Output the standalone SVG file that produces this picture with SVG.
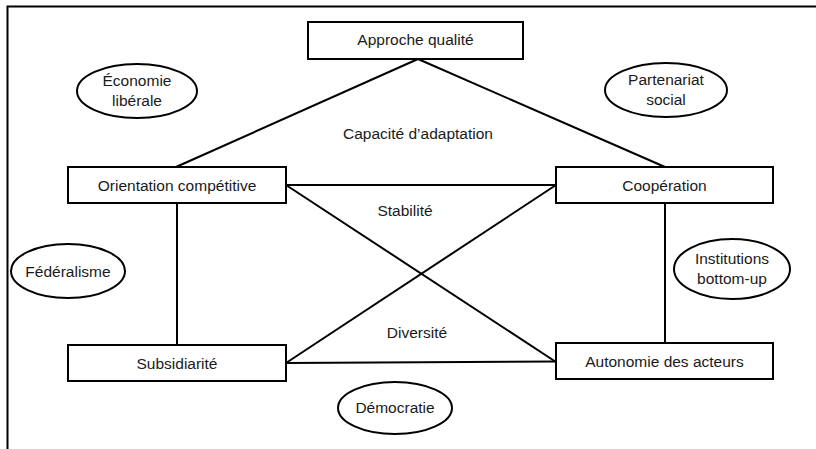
<svg xmlns="http://www.w3.org/2000/svg" width="816" height="449" viewBox="0 0 816 449">
<style>
  .box { fill: #fff; stroke: #000; stroke-width: 2; }
  .ell { fill: #fff; stroke: #000; stroke-width: 2; }
  .ln { stroke: #000; stroke-width: 2; fill: none; }
  text { font-family: "Liberation Sans", Arial, sans-serif; font-size: 15.5px; fill: #1a1a1a; text-anchor: middle; }
</style>
<rect width="816" height="449" fill="#fff"/>
<path class="ln" d="M7.5,449 V6.5 H816"/>
<g id="connectors">
  <line class="ln" x1="418" y1="59" x2="176" y2="167"/>
  <line class="ln" x1="418" y1="59" x2="665" y2="167"/>
  <line class="ln" x1="286" y1="185" x2="556" y2="185"/>
  <line class="ln" x1="286" y1="185" x2="556" y2="362"/>
  <line class="ln" x1="556" y1="185" x2="286" y2="363"/>
  <line class="ln" x1="286" y1="363" x2="556" y2="361.5"/>
  <line class="ln" x1="177" y1="203" x2="177" y2="345"/>
  <line class="ln" x1="665" y1="203" x2="665" y2="343"/>
</g>
<g id="labels">
  <text x="418" y="139">Capacité d’adaptation</text>
  <text x="405" y="216">Stabilité</text>
  <text x="417" y="338">Diversité</text>
</g>
<g id="approche">
  <rect class="box" x="308" y="22" width="215" height="37"/>
  <text x="415.5" y="45">Approche qualité</text>
</g>
<g id="orientation">
  <rect class="box" x="68" y="167" width="218" height="36"/>
  <text x="177" y="190.5">Orientation compétitive</text>
</g>
<g id="cooperation">
  <rect class="box" x="556" y="167" width="217" height="36"/>
  <text x="664.5" y="190.5">Coopération</text>
</g>
<g id="subsidiarite">
  <rect class="box" x="68" y="345" width="218" height="36"/>
  <text x="177" y="368.5">Subsidiarité</text>
</g>
<g id="autonomie">
  <rect class="box" x="556" y="343" width="217" height="36"/>
  <text x="664.5" y="366.5">Autonomie des acteurs</text>
</g>
<g id="economie">
  <ellipse class="ell" cx="137" cy="91" rx="60" ry="27"/>
  <text x="137" y="86">Économie</text>
  <text x="137" y="106">libérale</text>
</g>
<g id="partenariat">
  <ellipse class="ell" cx="666" cy="90" rx="61" ry="27"/>
  <text x="666" y="85">Partenariat</text>
  <text x="666" y="105">social</text>
</g>
<g id="federalisme">
  <ellipse class="ell" cx="68" cy="271" rx="57" ry="27"/>
  <text x="68" y="277">Fédéralisme</text>
</g>
<g id="institutions">
  <ellipse class="ell" cx="732" cy="269" rx="58" ry="30"/>
  <text x="732" y="264">Institutions</text>
  <text x="732" y="284">bottom-up</text>
</g>
<g id="democratie">
  <ellipse class="ell" cx="395" cy="408" rx="57" ry="26"/>
  <text x="395" y="413">Démocratie</text>
</g>
</svg>
